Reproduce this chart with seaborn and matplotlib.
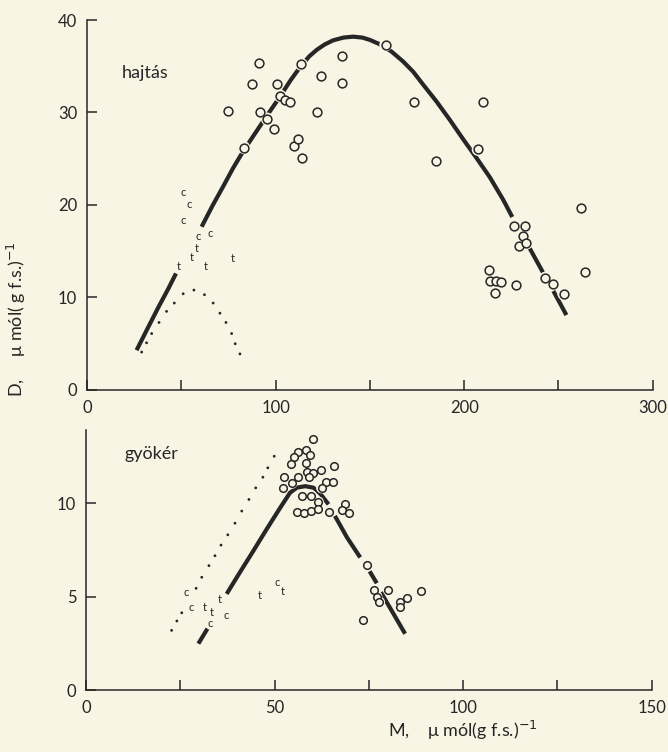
import numpy as np
import pandas as pd
import matplotlib
matplotlib.use("Agg")
import matplotlib.pyplot as plt
import seaborn as sns

BG = "#f8f5e4"
INK = "#262626"

# ---------------- top panel (hajtás) ----------------
top_circ_x = [75.0, 83.2, 91.3, 87.6, 91.7, 95.6, 99.1, 100.5, 102.3, 105.2, 107.9,
              113.7, 109.9, 112.0, 114.1, 122.2, 124.3, 135.3, 135.3, 158.4,
              173.3, 185.1, 210.0, 207.4, 226.3, 232.3, 231.2, 229.1, 233.0,
              212.9, 213.7, 216.7, 219.7, 216.6, 227.7, 243.1, 247.1, 252.8,
              261.7, 264.1]
top_circ_y = [30.2, 26.2, 35.4, 33.1, 30.1, 29.3, 28.2, 33.1, 31.8, 31.3, 31.1,
              35.2, 26.4, 27.1, 25.1, 30.0, 33.9, 36.1, 33.2, 37.3,
              31.1, 24.8, 31.1, 26.0, 17.7, 17.7, 16.6, 15.6, 15.9,
              13.0, 11.8, 11.8, 11.7, 10.5, 11.4, 12.1, 11.5, 10.4,
              19.7, 12.8]

top_let_x = [51.0, 54.2, 51.0, 58.8, 65.5, 48.8, 55.8, 58.1, 63.1, 77.2]
top_let_y = [21.3, 20.1, 18.3, 16.6, 16.9, 13.4, 14.3, 15.3, 13.3, 14.2]
top_let_s = ["c", "c", "c", "c", "c", "t", "t", "t", "t", "t"]

top_dot_x = [29.0, 31.6, 34.3, 38.2, 42.2, 46.3, 51.0, 56.7, 62.3, 66.9, 70.5, 73.7, 76.7, 78.6, 81.1]
top_dot_y = [4.1, 5.1, 6.1, 7.3, 8.5, 9.4, 10.4, 10.8, 10.3, 9.4, 8.3, 7.3, 6.1, 5.0, 3.9]

top_fit_x = [26.3, 32.0, 38.0, 43.0, 47.2,
             60.8, 66.5, 72.2, 77.5, 82.8, 89.0, 95.2, 102.3, 108.0, 113.7, 118.0, 122.0,
             126.0, 130.5, 136.0, 141.1, 146.0, 150.0, 155.0, 161.4, 167.7, 173.0,
             178.3, 185.3, 192.4, 199.5, 206.5, 213.6, 220.6, 225.5,
             234.8, 241.8,
             247.3, 254.2]
top_fit_y = [4.3, 6.6, 9.0, 10.9, 12.6,
             17.65, 19.9, 22.0, 24.0, 25.8, 27.7, 29.6, 31.7, 33.5, 35.1, 36.1, 36.8,
             37.35, 37.8, 38.1, 38.2, 38.1, 37.85, 37.4, 36.6, 35.5, 34.4,
             33.0, 31.2, 29.2, 27.1, 25.1, 23.0, 20.6, 18.7,
             15.3, 12.7,
             10.7, 8.1]
top_fit_seg = [0] * 5 + [1] * 30 + [2] * 2 + [3] * 2

# ---------------- bottom panel (gyökér) ----------------
bot_circ_x = [60.3, 56.3, 58.3, 59.4, 55.2, 54.4, 58.4, 58.5, 60.1, 62.3, 65.8,
              52.6, 56.3, 59.2, 54.6, 52.2, 63.7, 65.6, 62.5, 57.4, 59.7, 61.6,
              68.8, 56.0, 57.8, 59.6, 61.4, 64.3, 67.9, 69.6,
              74.4, 73.4, 76.4, 77.1, 77.8, 80.2, 83.3, 83.3, 85.1, 88.8]
bot_circ_y = [13.44, 12.73, 12.85, 12.59, 12.45, 12.06, 12.13, 11.67, 11.63, 11.79, 11.97,
              11.38, 11.38, 11.38, 11.06, 10.78, 11.10, 11.13, 10.81, 10.39, 10.39, 10.05,
              9.96, 9.52, 9.45, 9.57, 9.66, 9.50, 9.61, 9.47,
              6.68, 3.72, 5.37, 5.00, 4.70, 5.37, 4.70, 4.43, 4.93, 5.28]

bot_let_x = [26.7, 28.0, 31.6, 33.3, 32.9, 35.5, 37.3, 46.2, 50.6, 52.1]
bot_let_y = [5.23, 4.43, 4.43, 4.15, 3.55, 4.82, 3.99, 5.05, 5.76, 5.28]
bot_let_s = ["c", "c", "t", "t", "c", "t", "c", "t", "c", "t"]

bot_dot_x = [22.7, 24.1, 25.4, 29.2, 30.7, 32.6, 34.2, 35.8, 37.6, 39.5, 41.3, 43.2,
             45.0, 46.9, 48.2, 49.9]
bot_dot_y = [3.19, 3.69, 4.13, 5.44, 6.03, 6.65, 7.18, 7.75, 8.30, 8.92, 9.57, 10.19,
             10.81, 11.38, 11.88, 12.50]

bot_fit_x = [29.8, 32.2,
             37.3, 40.8, 44.4, 47.9, 51.5, 54.1, 55.9, 58.1, 60.3, 62.1, 64.3,
             66.0, 69.2, 72.7,
             75.2, 77.1,
             78.2, 84.6]
bot_fit_y = [2.48, 3.28,
             5.14, 6.29, 7.45, 8.60, 9.75, 10.55, 10.82, 10.90, 10.82, 10.50, 9.93,
             9.31, 8.16, 7.09,
             6.35, 5.71,
             5.23, 3.01]
bot_fit_seg = [0] * 2 + [1] * 11 + [2] * 3 + [3] * 2 + [4] * 2

top_xticks = [0, 100, 200, 300]
top_xminor = [50, 150, 250]
top_yticks = [0, 10, 20, 30, 40]
bot_xticks = [0, 50, 100, 150]
bot_xminor = [25, 75, 125]
bot_yticks = [0, 5, 10]

sns.set_style("ticks")
plt.rcParams["font.family"] = ["Lato", "DejaVu Sans"]
plt.rcParams["mathtext.fontset"] = "dejavusans"

fig = plt.figure(figsize=(6.68, 7.52), dpi=100, facecolor=BG)
ax1 = fig.add_axes([0.1302, 0.4814, 0.847, 0.492])
ax2 = fig.add_axes([0.1287, 0.0824, 0.847, 0.3457])


def panel(ax, fx, fy, fseg, cx, cy, lx, ly, ls, dx, dy, csize, halo):
    ax.set_facecolor(BG)
    df = pd.DataFrame({"x": fx, "y": fy, "seg": fseg})
    sns.lineplot(data=df, x="x", y="y", units="seg", estimator=None, sort=False,
                 color=INK, lw=3.0, ax=ax, legend=False, solid_capstyle="butt",
                 solid_joinstyle="round", zorder=2)
    sns.scatterplot(x=dx, y=dy, s=4, color=INK, edgecolor="none", ax=ax, zorder=2)
    sns.scatterplot(x=cx, y=cy, s=halo, color=BG, edgecolor="none", ax=ax, zorder=3)
    sns.scatterplot(x=cx, y=cy, s=csize, facecolor=BG, edgecolor=INK,
                    linewidth=1.1, ax=ax, zorder=4)
    for x, y, t in zip(lx, ly, ls):
        ax.text(x, y, t, ha="center", va="center", fontsize=8, color=INK, zorder=5)
    for s in ["top", "right"]:
        ax.spines[s].set_visible(False)
    for s in ["left", "bottom"]:
        ax.spines[s].set_color(INK)
        ax.spines[s].set_linewidth(1.1)
    ax.tick_params(which="both", direction="in", length=7, width=1.1, color=INK,
                   labelsize=12, labelcolor=INK, pad=7)
    ax.set_xlabel("")
    ax.set_ylabel("")


panel(ax1, top_fit_x, top_fit_y, top_fit_seg, top_circ_x, top_circ_y,
      top_let_x, top_let_y, top_let_s, top_dot_x, top_dot_y, 40, 85)
ax1.set_xlim(0, 300)
ax1.set_ylim(0, 40)
ax1.set_xticks(top_xticks)
ax1.set_xticks(top_xminor, minor=True)
ax1.set_yticks(top_yticks)
ax1.text(18.5, 34.3, "hajtás", fontsize=13, color=INK, ha="left", va="center")

panel(ax2, bot_fit_x, bot_fit_y, bot_fit_seg, bot_circ_x, bot_circ_y,
      bot_let_x, bot_let_y, bot_let_s, bot_dot_x, bot_dot_y, 30, 65)
ax2.set_xlim(0, 150)
ax2.set_ylim(0, 13.9)
ax2.set_xticks(bot_xticks)
ax2.set_xticks(bot_xminor, minor=True)
ax2.set_yticks(bot_yticks)
ax2.text(10.1, 12.6, "gyökér", fontsize=13, color=INK, ha="left", va="center")

fig.text(0.024, 0.472, r"D,     μ mól( g f.s.)$^{-1}$", rotation=90, ha="center",
         va="bottom", fontsize=13, color=INK)
fig.text(0.581, 0.029, r"M,    μ mól(g f.s.)$^{-1}$", ha="left", va="center",
         fontsize=13, color=INK)

fig.savefig("out.png", dpi=100, facecolor=BG)
